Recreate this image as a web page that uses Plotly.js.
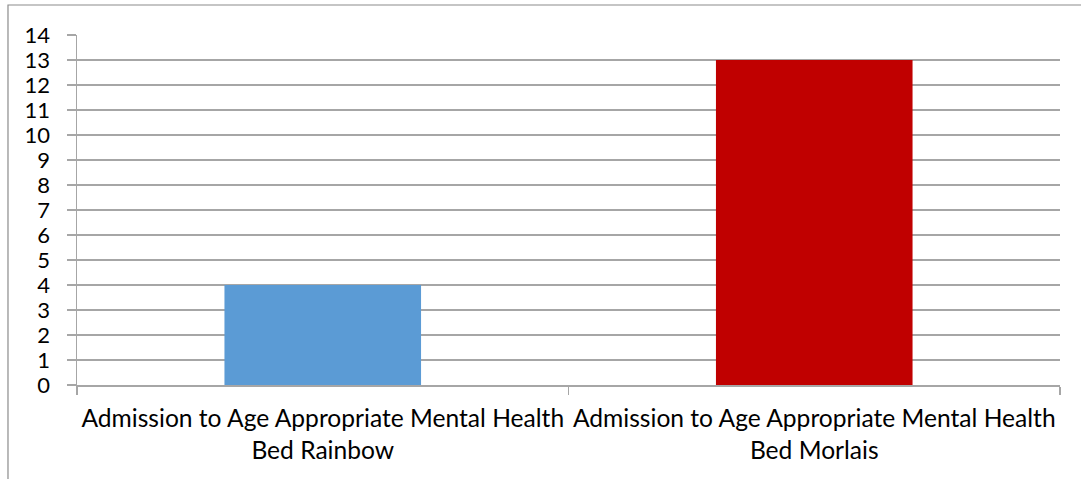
<!DOCTYPE html>
<html>
<head>
<meta charset="utf-8">
<script src="https://cdn.plot.ly/plotly-3.0.1.min.js"></script>
<style>html,body{margin:0;padding:0;background:#fff;}#chart{width:1081px;height:479px;}</style>
</head>
<body>
<div id="chart"></div>
<script>
const categories = ["Admission to Age Appropriate Mental Health<br>Bed Rainbow", "Admission to Age Appropriate Mental Health<br>Bed Morlais"];
const values = [4, 13];
const barColors = ["#5B9BD5", "#C00000"];
const yTicks = [0,1,2,3,4,5,6,7,8,9,10,11,12,13,14];

const data = [{
  type: "bar",
  x: categories,
  y: values,
  marker: {color: barColors},
  width: 0.4,
  hoverinfo: "none"
}];

const layout = {
  width: 1081, height: 479,
  margin: {l: 77, r: 21, t: 35, b: 94},
  paper_bgcolor: "#fff", plot_bgcolor: "#fff",
  font: {family: "Lato, 'Open Sans', sans-serif", size: 22, color: "#000"},
  showlegend: false,
  xaxis: {
    type: "category",
    showline: true, linecolor: "#a6a6a6", linewidth: 1.5,
    ticks: "outside", tickson: "boundaries", ticklen: 8, tickcolor: "#a6a6a6", tickwidth: 1.5,
    showgrid: false, tickfont: {size: 24.6}, tickangle: 0, automargin: false, ticklabelstandoff: 11
  },
  yaxis: {
    range: [0, 14], tickvals: yTicks, ticktext: yTicks.map(String),
    showline: true, linecolor: "#a6a6a6", linewidth: 1.5,
    ticks: "outside", ticklen: 9, tickcolor: "#a6a6a6", tickwidth: 1.5,
    showgrid: true, gridcolor: "#a6a6a6", gridwidth: 1.5,
    zeroline: false, tickfont: {size: 22}, automargin: false, ticklabelstandoff: 12
  },
  shapes: [{
    type: "rect", xref: "paper", yref: "paper",
    x0: -0.0702, x1: 1.2, y0: -0.4, y1: 1.0857,
    line: {color: "#8c8c8c", width: 1.2}, fillcolor: "rgba(0,0,0,0)", layer: "below"
  }]
};

Plotly.newPlot("chart", data, layout, {staticPlot: true});
</script>
</body>
</html>
